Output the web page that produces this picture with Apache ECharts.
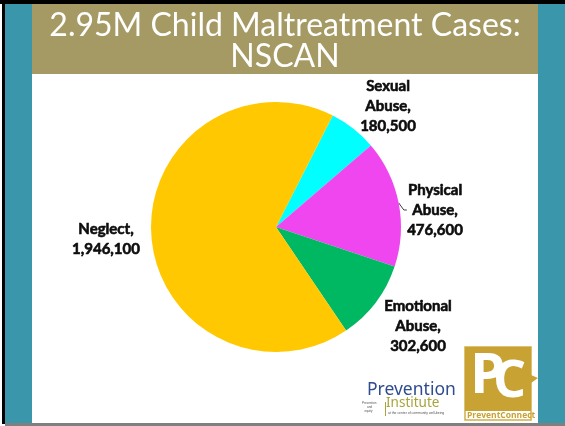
<!DOCTYPE html>
<html>
<head>
<meta charset="utf-8">
<script src="https://cdn.jsdelivr.net/npm/echarts@6/dist/echarts.min.js"></script>
<style>
html,body{margin:0;padding:0;background:#fff;}
#chart{width:565px;height:426px;}
</style>
</head>
<body>
<div id="chart"></div>
<script>
// ---- data ----
var titleLines = ["2.95M Child Maltreatment Cases:", "NSCAN"];
var categories = ["Sexual Abuse", "Physical Abuse", "Emotional Abuse", "Neglect"];
var values = [180500, 476600, 302600, 1946100];
var colors = ["#00FFFF", "#F046F0", "#00B862", "#FFC800"];

// label anchor positions (px) for each slice label
var labelPos = [[388, 106], [435, 210], [418, 326], [106, 239]];

var chart = echarts.init(document.getElementById('chart'), null, {renderer: 'canvas'});

var seriesData = categories.map(function (c, i) {
  return {
    name: c,
    value: values[i],
    itemStyle: {color: colors[i]},
    labelLine: i === 1 ? {show: true, length: 6, length2: 3, lineStyle: {color: '#404040', width: 1}} : {show: false}
  };
});

var option = {
  animation: false,
  backgroundColor: '#ffffff',
  graphic: [
    // frame
    {type: 'rect', shape: {x: 0, y: 0, width: 565, height: 4}, style: {fill: '#000'}, z: 0},
    {type: 'rect', shape: {x: 2, y: 0, width: 3, height: 424}, style: {fill: '#000'}, z: 0},
    {type: 'rect', shape: {x: 5, y: 4, width: 27, height: 419}, style: {fill: '#3A96AA'}, z: 0},
    {type: 'rect', shape: {x: 538, y: 4, width: 27, height: 419}, style: {fill: '#3A96AA'}, z: 0},
    {type: 'rect', shape: {x: 32, y: 4, width: 506, height: 70}, style: {fill: '#A69A64'}, z: 0},
    {type: 'rect', shape: {x: 5, y: 423, width: 560, height: 3}, style: {fill: '#7F7F7F'}, z: 0},
    // Prevention Institute logo
    {type: 'text', left: 367, top: 381, style: {text: 'Prevention', fill: '#2E4C8F', font: '17.5px "Noto Sans", sans-serif'}, z: 1},
    {type: 'text', left: 386, top: 396, style: {text: 'Institute', fill: '#A8A43C', font: '13.5px "Noto Sans", sans-serif'}, z: 1},
    {type: 'text', left: 362, top: 401, style: {text: 'Prevention\n      and\n   equity', fill: '#555', font: '3px sans-serif', lineHeight: 4}, z: 1},
    {type: 'rect', shape: {x: 385, y: 402, width: 1, height: 14}, style: {fill: '#A8A43C'}, z: 1},
    {type: 'text', left: 388, top: 412, style: {text: 'at the center of community well-being', fill: '#555', font: '3.4px sans-serif'}, z: 1},
    // PreventConnect logo
    {type: 'rect', shape: {x: 465, y: 347, width: 66, height: 73}, style: {fill: '#fff', stroke: '#D2AE45', lineWidth: 1.5}, z: 1},
    {type: 'rect', shape: {x: 465, y: 347, width: 66, height: 64}, style: {fill: '#C9A234'}, z: 1},
    {type: 'polygon', shape: {points: [[524, 372], [538, 378], [524, 388]]}, style: {fill: '#C9A234'}, z: 1},
    {type: 'text', left: 470, top: 349, style: {text: 'P', fill: '#fff', font: 'bold 56px "Open Sans", sans-serif'}, z: 2},
    {type: 'text', left: 493, top: 356, style: {text: 'C', fill: '#fff', font: 'bold 52px "Open Sans", sans-serif'}, z: 2},
    {type: 'text', left: 467, top: 411, style: {text: 'PreventConnect', fill: '#C9A234', font: 'bold 8.5px "Open Sans", sans-serif'}, z: 2}
  ],
  title: {
    text: titleLines.join('\n'),
    left: 280,
    textAlign: 'center',
    top: 5,
    textStyle: {
      color: '#ffffff',
      fontFamily: 'Lato',
      fontWeight: 'normal',
      fontSize: 32,
      lineHeight: 31
    }
  },
  series: [{
    type: 'pie',
    center: [276, 227],
    radius: 125,
    startAngle: 63,
    clockwise: true,
    avoidLabelOverlap: false,
    data: seriesData,
    itemStyle: {borderWidth: 0},
    label: {
      show: true,
      position: 'outside',
      color: '#0d0d0d',
      fontFamily: 'Lato',
      fontWeight: 'bold',
      fontSize: 15,
      lineHeight: 20,
      textBorderColor: '#0d0d0d',
      textBorderWidth: 0.6,
      align: 'center',
      formatter: function (p) {
        return p.name.replace(' ', '\n') + ',\n' + p.value.toLocaleString('en-US');
      }
    },
    labelLine: {show: false},
    labelLayout: function (params) {
      var pos = labelPos[params.dataIndex];
      return {x: pos[0], y: pos[1], align: 'center', verticalAlign: 'middle', hideOverlap: false};
    },
    emphasis: {disabled: true}
  }]
};
chart.setOption(option);
</script>
</body>
</html>
